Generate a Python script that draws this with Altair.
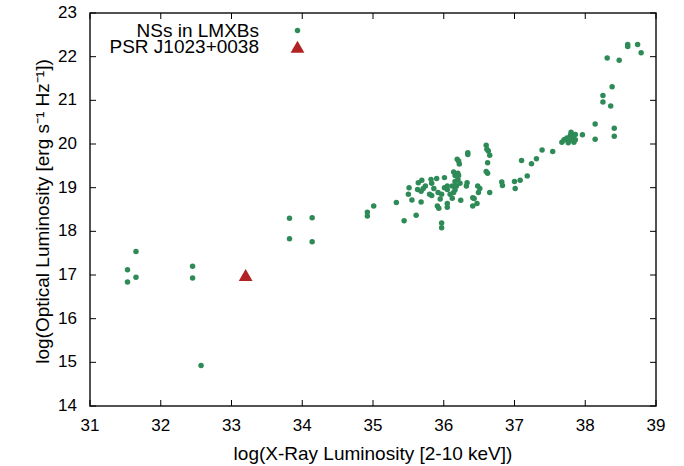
import altair as alt
import pandas as pd

# NSs in LMXBs: log Lx (2-10 keV), log L_opt
nsx = [31.53, 31.53, 31.65, 31.65, 32.45, 32.45, 32.57, 33.82, 33.82, 34.14,
       34.14, 34.92, 34.92, 35.01, 35.33, 35.44, 35.61, 35.51, 35.50, 35.55,
       35.68, 35.64, 35.69, 35.63, 35.68, 35.71, 35.74, 35.80, 35.83, 35.82,
       35.83, 35.86, 35.90, 35.92, 35.95, 35.91, 35.93, 36.01, 36.01, 36.05,
       36.05, 36.05, 36.05, 35.97, 35.97, 35.97, 36.09, 36.12, 36.12, 36.14,
       36.16, 36.16, 36.18, 36.20, 36.14, 36.16, 36.20, 36.21, 36.23, 36.19,
       36.21, 36.22, 36.24, 36.33, 36.34, 36.34, 36.32, 36.41, 36.43, 36.47,
       36.41, 36.48, 36.51, 36.49, 36.60, 36.61, 36.63, 36.65, 36.62, 36.60,
       36.62, 36.65, 36.82, 36.83, 37.00, 37.01, 37.10, 37.08, 37.18, 37.24,
       37.31, 37.39, 37.54, 37.67, 37.70, 37.72, 37.74, 37.76, 37.79, 37.80,
       37.80, 37.83, 37.83, 37.84, 37.86, 37.86, 37.96, 38.14, 38.14, 38.41,
       38.41, 38.25, 38.25, 38.36, 38.38, 38.31, 38.48, 38.60, 38.60, 38.74,
       38.79]
nsy = [16.84, 17.12, 16.95, 17.54, 17.20, 16.93, 14.93, 18.30, 17.83, 18.31,
       17.76, 18.44, 18.35, 18.58, 18.66, 18.24, 18.37, 19.00, 18.85, 18.72,
       18.67, 19.11, 19.17, 18.96, 18.92, 18.98, 19.04, 18.85, 18.82, 19.19,
       19.10, 18.98, 19.21, 18.89, 18.74, 18.58, 18.53, 19.23, 19.00, 19.04,
       18.96, 18.64, 18.55, 18.19, 18.08, 18.85, 18.85, 18.76, 19.04, 19.36,
       19.28, 19.14, 19.04, 19.19, 18.89, 18.95, 19.33, 19.28, 19.10, 19.65,
       19.61, 19.54, 18.71, 19.11, 19.80, 19.76, 19.04, 18.77, 18.75, 18.64,
       18.58, 19.04, 18.98, 18.89, 19.97, 19.88, 19.84, 19.74, 19.57, 19.37,
       19.33, 18.89, 19.13, 19.05, 19.14, 18.98, 19.62, 19.17, 19.27, 19.55,
       19.66, 19.86, 19.83, 20.04, 20.10, 20.10, 20.14, 20.03, 20.20, 20.27,
       20.09, 20.18, 20.12, 20.04, 20.10, 20.22, 20.21, 20.46, 20.11, 20.36,
       20.18, 21.11, 20.96, 20.87, 21.31, 21.97, 21.92, 22.28, 22.23, 22.28,
       22.09]

psr_x = [33.2]
psr_y = [17.0]

series_names = ["NSs in LMXBs", "PSR J1023+0038"]
series_colors = ["#2e8b57", "#b22222"]
series_shapes = ["circle", "triangle-up"]
series_sizes = [30, 190]

x_ticks = [31, 32, 33, 34, 35, 36, 37, 38, 39]
y_ticks = [14, 15, 16, 17, 18, 19, 20, 21, 22, 23]
x_min, x_max = 31, 39
y_min, y_max = 14, 23
x_title = "log(X-Ray Luminosity [2-10 keV])"
y_title = "log(Optical Luminosity [erg s⁻¹ Hz⁻¹])"

df = pd.DataFrame({
    "x": nsx + psr_x,
    "y": nsy + psr_y,
    "series": [series_names[0]] * len(nsx) + [series_names[1]] * len(psr_x),
})
xl_df = pd.DataFrame({"v": x_ticks, "role": "label"})
yl_df = pd.DataFrame({"v": y_ticks, "role": "label"})
xtb_df = pd.DataFrame({"v": x_ticks, "role": "tick-bottom"})
xtt_df = pd.DataFrame({"v": x_ticks, "role": "tick-top"})
ytl_df = pd.DataFrame({"v": y_ticks, "role": "tick-left"})
ytr_df = pd.DataFrame({"v": y_ticks, "role": "tick-right"})

W, H = 566, 393
TICK = 6
FONT = "Liberation Sans"

xs = alt.Scale(domain=[x_min, x_max], nice=False, zero=False)
ys = alt.Scale(domain=[y_min, y_max], nice=False, zero=False)
color_scale = alt.Scale(domain=series_names, range=series_colors)
shape_scale = alt.Scale(domain=series_names, range=series_shapes)
size_scale = alt.Scale(domain=series_names, range=series_sizes)

points = alt.Chart(df).mark_point(filled=True, opacity=1, strokeWidth=0).encode(
    x=alt.X("x:Q", scale=xs, axis=None),
    y=alt.Y("y:Q", scale=ys, axis=None),
    color=alt.Color("series:N", scale=color_scale, legend=None),
    shape=alt.Shape("series:N", scale=shape_scale, legend=None),
    size=alt.Size("series:N", scale=size_scale, legend=None),
)

# gnuplot-style frame axes: inward tick marks on all four sides
tick_style = dict(color="#000", opacity=1, thickness=1, size=TICK)
xt_bottom = alt.Chart(xtb_df).mark_tick(orient="vertical", yOffset=-TICK / 2, **tick_style).encode(
    x=alt.X("v:Q", scale=xs, axis=None), y=alt.Y(datum=y_min, axis=None))
xt_top = alt.Chart(xtt_df).mark_tick(orient="vertical", yOffset=TICK / 2, **tick_style).encode(
    x=alt.X("v:Q", scale=xs, axis=None), y=alt.Y(datum=y_max, axis=None))
yt_left = alt.Chart(ytl_df).mark_tick(orient="horizontal", xOffset=TICK / 2, **tick_style).encode(
    y=alt.Y("v:Q", scale=ys, axis=None), x=alt.X(datum=x_min, axis=None))
yt_right = alt.Chart(ytr_df).mark_tick(orient="horizontal", xOffset=-TICK / 2, **tick_style).encode(
    y=alt.Y("v:Q", scale=ys, axis=None), x=alt.X(datum=x_max, axis=None))

# tick labels placed through the same scales
xl = alt.Chart(xl_df).mark_text(
    baseline="top", align="center", dy=12, font=FONT, fontSize=17, color="#000"
).encode(x=alt.X("v:Q", scale=xs, axis=None), y=alt.Y(datum=y_min, axis=None),
         text=alt.Text("v:Q", format="d"))
yl = alt.Chart(yl_df).mark_text(
    baseline="middle", align="right", dx=-13, font=FONT, fontSize=17, color="#000"
).encode(y=alt.Y("v:Q", scale=ys, axis=None), x=alt.X(datum=x_min, axis=None),
         text=alt.Text("v:Q", format="d"))

# axis titles
xtitle = alt.Chart(pd.DataFrame({"t": [x_title]})).mark_text(
    baseline="top", align="center", font=FONT, fontSize=19, color="#000"
).encode(x=alt.value(W / 2), y=alt.value(H + 39), text="t:N")
ytitle = alt.Chart(pd.DataFrame({"t": [y_title]})).mark_text(
    baseline="middle", align="center", angle=270, font=FONT, fontSize=19, color="#000"
).encode(x=alt.value(-47), y=alt.value(H / 2 + 2), text="t:N")

# legend (gnuplot style: label on the left, symbol on the right)
legend_layers = []
for i, name in enumerate(series_names):
    ldf = pd.DataFrame({"series": [name]})
    ypix = 17.5 + 16.3 * i
    legend_layers.append(
        alt.Chart(ldf).mark_text(
            align="right", baseline="middle", font=FONT, fontSize=19, color="#000"
        ).encode(x=alt.value(169), y=alt.value(ypix), text="series:N")
    )
    legend_layers.append(
        alt.Chart(ldf).mark_point(
            filled=True, opacity=1, strokeWidth=0, shape=series_shapes[i],
            color=series_colors[i], size=series_sizes[i]
        ).encode(x=alt.value(207.5), y=alt.value(ypix))
    )

chart = alt.layer(
    points, xl, yl, xtitle, ytitle, *legend_layers, xt_bottom, xt_top, yt_left, yt_right
).properties(
    width=W, height=H,
    padding={"left": 90, "top": 13, "right": 28, "bottom": 60},
    autosize=alt.AutoSizeParams(type="none"),
).configure_view(
    stroke="#1a1a1a", strokeWidth=1.5
)

chart.save("out.html", embed_options={"renderer": "svg", "actions": False})
